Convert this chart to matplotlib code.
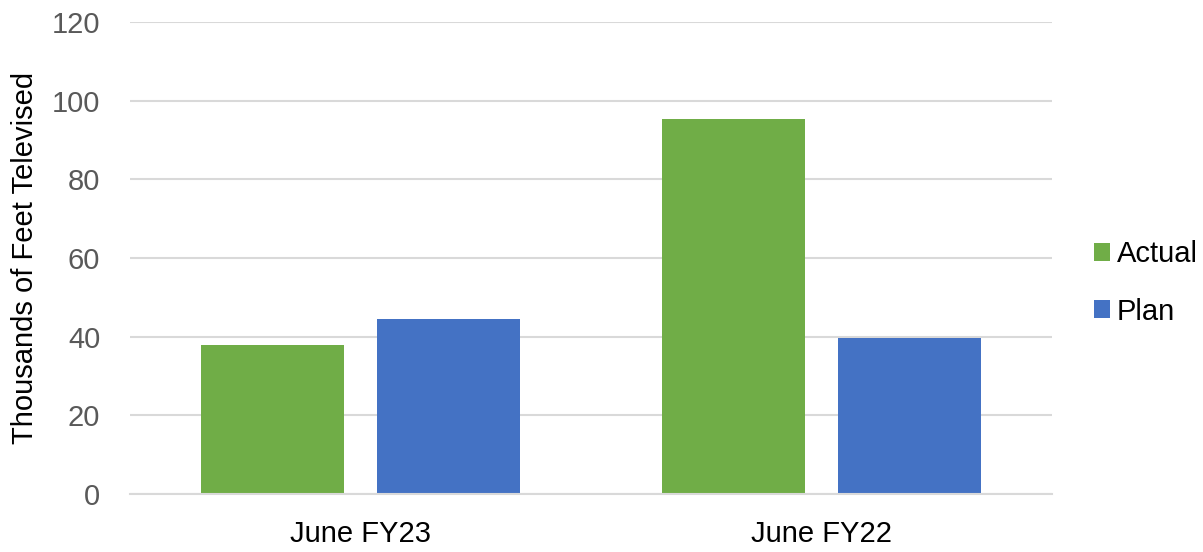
import numpy as np
import matplotlib
matplotlib.use("Agg")
import matplotlib.pyplot as plt

# values
categories = ["June FY23", "June FY22"]
actual = [37.9, 95.3]
plan = [44.5, 39.7]
series_names = ["Actual", "Plan"]
yticks = [0, 20, 40, 60, 80, 100, 120]

green = "#70AD47"
blue = "#4472C4"
grid_grey = "#D9D9D9"

plt.rcParams["font.family"] = ["Liberation Sans", "DejaVu Sans"]

fig = plt.figure(figsize=(12.03, 5.52), dpi=100)
ax = fig.add_axes([130 / 1203, 58 / 552, 922 / 1203, 472 / 552])

x = np.arange(len(categories))
width = 0.309
offset = 0.191
ax.bar(x - offset, actual, width, color=green, label=series_names[0], zorder=3)
ax.bar(x + offset, plan, width, color=blue, label=series_names[1], zorder=3)

ax.set_xlim(-0.5, len(categories) - 0.5)
ax.set_ylim(0, 120)
ax.set_yticks(yticks)
ax.set_xticks(x)
ax.set_xticklabels(categories)

# light horizontal gridlines, no frame except the baseline
ax.yaxis.grid(True, color=grid_grey, linewidth=1.5, zorder=0)
for side in ["top", "right", "left"]:
    ax.spines[side].set_visible(False)
ax.spines["bottom"].set_color(grid_grey)
ax.spines["bottom"].set_linewidth(1.5)
ax.spines["bottom"].set_zorder(4)

ax.tick_params(axis="both", length=0, labelsize=21, labelcolor="#595959")
ax.tick_params(axis="y", pad=21.5)
ax.tick_params(axis="x", pad=19)
for lab in ax.get_xticklabels():
    lab.set_color("#000000")

ax.set_ylabel("Thousands of Feet Televised", fontsize=21, color="#000000")
ax.yaxis.set_label_coords(-0.0987, 0.5)

fig.legend(loc="center left", bbox_to_anchor=(1094 / 1203, 1 - 283 / 552),
           frameon=False, fontsize=21, handlelength=0.55, handleheight=0.55,
           handletextpad=0.24, labelspacing=1.0, borderpad=0, borderaxespad=0)

fig.savefig("out.png", dpi=100)
